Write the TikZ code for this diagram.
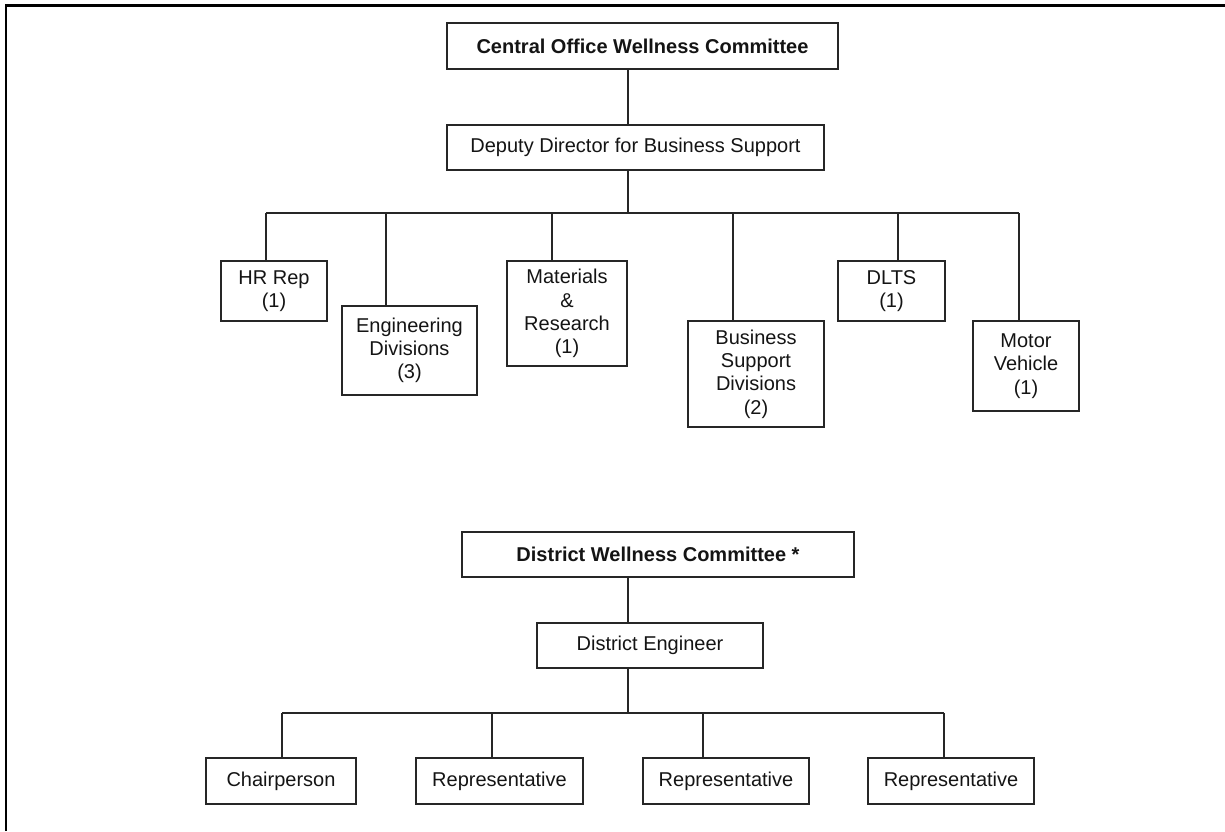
\documentclass[tikz,border=0pt]{standalone}
\usepackage{fontspec}
\setmainfont{Liberation Sans}
\begin{document}
\begin{tikzpicture}[x=0.5pt,y=-0.5pt,
  box/.style={draw=black!85, line width=0.6pt, inner sep=0pt, align=center,
    font=\fontsize{10}{11.65}\selectfont, text=black!92},
  conn/.style={draw=black!85, line width=0.6pt},
  frame/.style={draw=black, line width=1.25pt}]
\useasboundingbox (0,0) rectangle (1225,831);
\newcommand\orgbox[6]{\node[box, minimum width=#4*0.5pt, minimum height=#5*0.5pt] (#1) at (#2,#3) {#6};}
% frame
\coordinate (fa) at (6,831);
\coordinate (fb) at (6,5.3);
\coordinate (fc) at (1225,5.3);
\draw[frame] (fa) -- (fb) -- (fc);
% upper chart
\orgbox{cow}{642.5}{46}{391}{46}{\bfseries Central Office Wellness Committee}
\orgbox{dep}{635.5}{147.5}{377}{45}{Deputy Director for Business Support}
\orgbox{hr}{274}{291}{106}{60}{HR Rep\\(1)}
\orgbox{eng}{409.5}{350.5}{135}{89}{Engineering\\Divisions\\(3)}
\orgbox{mat}{567}{313.5}{120}{105}{Materials\\\&\\Research\\(1)}
\orgbox{bsd}{756}{374}{136}{106}{Business\\Support\\Divisions\\(2)}
\orgbox{dlts}{891.5}{291}{107}{60}{DLTS\\(1)}
\orgbox{mv}{1026}{366}{106}{90}{Motor\\Vehicle\\(1)}
\coordinate (ub) at (628,213);
\coordinate (ul) at (266,213);
\coordinate (ue) at (386,213);
\coordinate (um) at (552,213);
\coordinate (us) at (733,213);
\coordinate (ud) at (898,213);
\coordinate (ur) at (1019,213);
\draw[conn] (cow.south -| ub) -- (dep.north -| ub);
\draw[conn] (dep.south -| ub) -- (ub);
\draw[conn] (ul) -- (ur);
\draw[conn] (ul) -- (ul |- hr.north);
\draw[conn] (ue) -- (ue |- eng.north);
\draw[conn] (um) -- (um |- mat.north);
\draw[conn] (us) -- (us |- bsd.north);
\draw[conn] (ud) -- (ud |- dlts.north);
\draw[conn] (ur) -- (ur |- mv.north);
% lower chart
\orgbox{dwc}{658}{554.5}{392}{45}{\bfseries District Wellness Committee *}
\orgbox{de}{650}{645.5}{226}{45}{District Engineer}
\orgbox{ch}{281}{781}{150}{46}{Chairperson}
\orgbox{ra}{499.5}{781}{167}{46}{Representative}
\orgbox{rb}{726}{781}{166}{46}{Representative}
\orgbox{rc}{951}{781}{166}{46}{Representative}
\coordinate (lb) at (628,713);
\coordinate (l1) at (282,713);
\coordinate (l2) at (492,713);
\coordinate (l3) at (703,713);
\coordinate (l4) at (944,713);
\draw[conn] (dwc.south -| lb) -- (de.north -| lb);
\draw[conn] (de.south -| lb) -- (lb);
\draw[conn] (l1) -- (l4);
\draw[conn] (l1) -- (l1 |- ch.north);
\draw[conn] (l2) -- (l2 |- ra.north);
\draw[conn] (l3) -- (l3 |- rb.north);
\draw[conn] (l4) -- (l4 |- rc.north);
\end{tikzpicture}
\end{document}
